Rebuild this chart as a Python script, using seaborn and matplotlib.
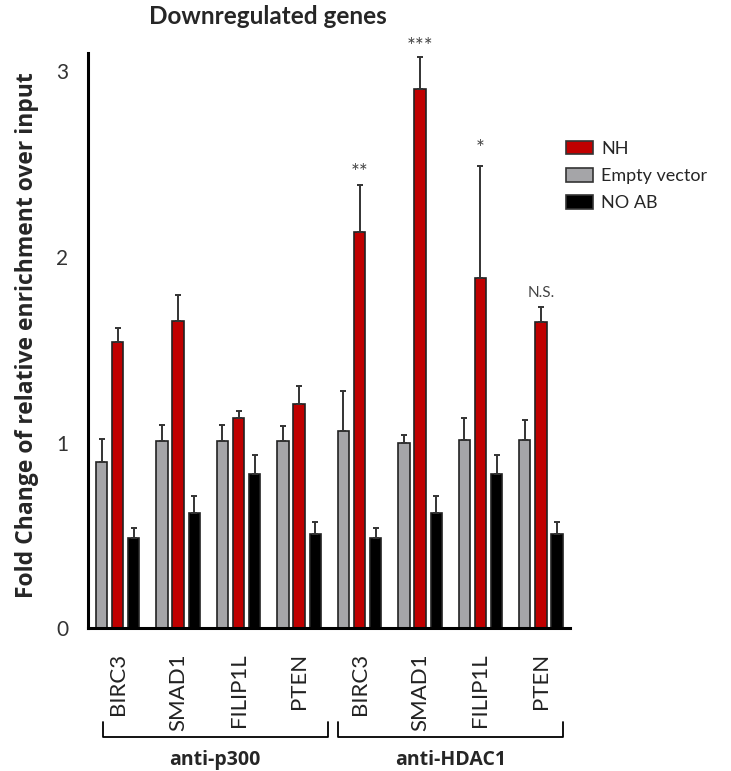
import matplotlib
matplotlib.use("Agg")
import matplotlib.pyplot as plt
import seaborn as sns
import pandas as pd
import numpy as np
from matplotlib.patches import Patch

# ---- data ----
genes = ["BIRC3", "SMAD1", "FILIP1L", "PTEN", "BIRC3", "SMAD1", "FILIP1L", "PTEN"]
antibodies = ["anti-p300", "anti-HDAC1"]
series = ["Empty vector", "NH", "NO AB"]
empty_vals = [0.897, 1.007, 1.007, 1.007, 1.06, 1.00, 1.012, 1.012]
empty_err = [0.12, 0.09, 0.09, 0.08, 0.22, 0.04, 0.12, 0.11]
nh_vals = [1.543, 1.655, 1.134, 1.21, 2.136, 2.904, 1.888, 1.65]
nh_err = [0.072, 0.138, 0.036, 0.095, 0.254, 0.174, 0.60, 0.08]
noab_vals = [0.485, 0.62, 0.833, 0.51, 0.485, 0.62, 0.833, 0.51]
noab_err = [0.055, 0.09, 0.10, 0.06, 0.055, 0.09, 0.10, 0.06]
sig_labels = ["", "", "", "", "**", "***", "*", "N.S."]
sig_y = [None, None, None, None, 2.473, 3.153, 2.60, 1.806]
yticks = [0, 1, 2, 3]

colors = {"Empty vector": "#A5A5A8", "NH": "#C00000", "NO AB": "#000000"}

keys = [f"{antibodies[i // 4]}|{g}|{i}" for i, g in enumerate(genes)]
rows = []
for s, vals, errs in [("Empty vector", empty_vals, empty_err),
                      ("NH", nh_vals, nh_err),
                      ("NO AB", noab_vals, noab_err)]:
    for k, v, e in zip(keys, vals, errs):
        rows.append({"key": k, "series": s, "value": v, "err": e})
df = pd.DataFrame(rows)

sns.set_style("white")
plt.rcParams["font.family"] = ["Lato", "DejaVu Sans"]

fig = plt.figure(figsize=(7.31, 7.71), dpi=100)
ax = fig.add_axes([88 / 731, 1 - 628.3 / 771, (570 - 88) / 731, (628.3 - 52.7) / 771])

sns.barplot(data=df, x="key", y="value", hue="series", order=keys,
            hue_order=series, palette=colors, saturation=1, errorbar=None,
            width=0.8, gap=0.3, edgecolor="#222222", linewidth=1.2, ax=ax,
            legend=False)

# error bars (upper only) placed on the bars drawn by seaborn
for si, s in enumerate(series):
    sub = df[df["series"] == s].set_index("key").loc[keys]
    cont = ax.containers[si]
    xs = [b.get_x() + b.get_width() / 2 for b in cont]
    hs = [b.get_height() for b in cont]
    errs = sub["err"].values
    ax.errorbar(xs, hs, yerr=[np.zeros(len(errs)), errs], fmt="none",
                ecolor="#333333", elinewidth=1.4, capsize=2.5, capthick=1.4,
                zorder=1)

ax.set_xlim(-0.49, 7.48)
ax.set_ylim(0, 3.10)
ax.set_yticks(yticks)
ax.set_yticklabels([str(t) for t in yticks], fontsize=15, color="#333333")
ax.set_xticks(range(len(keys)))
ax.set_xticklabels(genes, rotation=90, fontsize=16, color="#222222")
ax.tick_params(axis="both", direction="out", length=8, width=2, color="black")
ax.tick_params(axis="y", pad=6)
ax.tick_params(axis="x", pad=10)
ax.set_xlabel("")
sns.despine(ax=ax)
for sp in ["left", "bottom"]:
    ax.spines[sp].set_linewidth(2.2)
    ax.spines[sp].set_color("black")

ax.set_ylabel("Fold Change of relative enrichment over input",
              fontsize=16.5, fontweight="bold", family=["Open Sans", "DejaVu Sans"])
ax.yaxis.set_label_coords(-61 / 482, 0.51)
ax.yaxis.label.set_va("center")

ax.set_title("Downregulated genes", fontsize=17.5, fontweight="bold",
             x=(268 - 88) / 482, y=(628.3 - 25) / 575.6, va="center")

# significance labels above NH bars
for i, (lab, yy) in enumerate(zip(sig_labels, sig_y)):
    if lab:
        is_star = lab.startswith("*")
        ax.text(i, yy - (0.02 if is_star else 0), lab, ha="center", va="center",
                fontsize=15 if is_star else 11, color="#444444", clip_on=False)

# group brackets
trans = ax.get_xaxis_transform()
for gi, name in enumerate(antibodies):
    x0 = gi * 4 - (0.25 if gi == 0 else 0.36)
    x1 = gi * 4 + 3 + (0.48 if gi == 0 else 0.36)
    y_top, y_bot = -0.1628, -0.1888
    ax.plot([x0, x0, x1, x1], [y_top, y_bot, y_bot, y_top], transform=trans,
            color="black", lw=1.3, clip_on=False)
    ax.text((x0 + x1) / 2, -0.2286, name, transform=trans, ha="center",
            va="center", fontsize=14, fontweight="bold",
            family=["Open Sans", "DejaVu Sans"])

# legend
order = ["NH", "Empty vector", "NO AB"]
handles = [Patch(facecolor=colors[s], edgecolor="#333333", linewidth=1.2) for s in order]
fig.legend(handles, order, loc="upper left",
           bbox_to_anchor=(566 / 731, 1 - 141 / 771), frameon=False,
           fontsize=13, handlelength=1.5, handleheight=0.75,
           handletextpad=0.45, labelspacing=0.62, borderpad=0, borderaxespad=0)

fig.savefig("out.png", dpi=100)
